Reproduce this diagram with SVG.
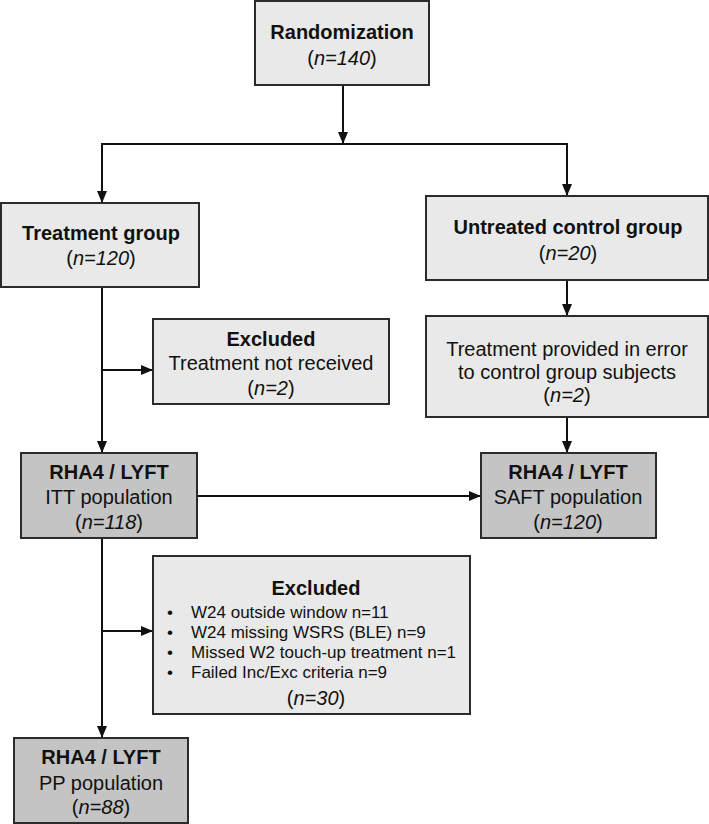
<svg xmlns="http://www.w3.org/2000/svg" width="709" height="824" viewBox="0 0 709 824">
<defs>
<style>
.box{fill:#e9e9e9;stroke:#2b2b2b;stroke-width:2}
.dark{fill:#c4c4c4;stroke:#2b2b2b;stroke-width:2}
text{font-family:"Liberation Sans",Arial,sans-serif;font-size:20px;fill:#111;text-anchor:middle}
.b{font-weight:bold}
.sm{font-size:17px;text-anchor:start}
.i{font-style:italic}
.ln{fill:none;stroke:#111;stroke-width:2}
.ar{marker-end:url(#ah)}
</style>
<marker id="ah" markerUnits="userSpaceOnUse" markerWidth="12" markerHeight="12" viewBox="0 0 12 12" refX="12" refY="6" orient="auto">
<path d="M0,1 L12,6 L0,11 Z" fill="#111"/>
</marker>
</defs>
<rect width="709" height="824" fill="#fff"/>
<g id="connectors">
<line class="ln ar" x1="343" y1="85" x2="343" y2="144"/>
<line class="ln" x1="101" y1="144" x2="568" y2="144"/>
<line class="ln ar" x1="102" y1="144" x2="102" y2="203"/>
<line class="ln ar" x1="567" y1="144" x2="567" y2="196"/>
<line class="ln ar" x1="102" y1="287" x2="102" y2="453"/>
<line class="ln ar" x1="102" y1="370" x2="153" y2="370"/>
<line class="ln ar" x1="567" y1="280" x2="567" y2="316"/>
<line class="ln ar" x1="567" y1="417" x2="567" y2="453"/>
<line class="ln ar" x1="197" y1="496" x2="481" y2="496"/>
<line class="ln ar" x1="102" y1="538" x2="102" y2="738"/>
<line class="ln ar" x1="102" y1="631" x2="153" y2="631"/>
</g>
<g id="randomization">
<rect class="box" x="255" y="1" width="174" height="84"/>
<text class="b" x="342" y="39">Randomization</text>
<text x="342" y="65">(<tspan class="i">n=140</tspan>)</text>
</g>
<g id="treatment">
<rect class="box" x="1" y="203" width="198" height="84"/>
<text class="b" x="101" y="240">Treatment group</text>
<text x="101" y="265">(<tspan class="i">n=120</tspan>)</text>
</g>
<g id="untreated">
<rect class="box" x="426" y="196" width="282" height="84"/>
<text class="b" x="568" y="234">Untreated control group</text>
<text x="568" y="260">(<tspan class="i">n=20</tspan>)</text>
</g>
<g id="excluded1">
<rect class="box" x="153" y="319" width="236" height="85"/>
<text class="b" x="271" y="346">Excluded</text>
<text x="271" y="370">Treatment not received</text>
<text x="271" y="395">(<tspan class="i">n=2</tspan>)</text>
</g>
<g id="error">
<rect class="box" x="426" y="316" width="282" height="101"/>
<text x="567" y="356">Treatment provided in error</text>
<text x="567" y="379">to control group subjects</text>
<text x="567" y="402">(<tspan class="i">n=2</tspan>)</text>
</g>
<g id="itt">
<rect class="dark" x="21" y="453" width="176" height="85"/>
<text class="b" x="109" y="479">RHA4 / LYFT</text>
<text x="109" y="504">ITT population</text>
<text x="109" y="529">(<tspan class="i">n=118</tspan>)</text>
</g>
<g id="saft">
<rect class="dark" x="481" y="453" width="175" height="85"/>
<text class="b" x="568" y="479">RHA4 / LYFT</text>
<text x="568" y="504">SAFT population</text>
<text x="568" y="529">(<tspan class="i">n=120</tspan>)</text>
</g>
<g id="excluded2">
<rect class="box" x="153" y="556" width="317" height="158"/>
<text class="b" x="316" y="595">Excluded</text>
<text class="sm" x="167" y="618">•</text>
<text class="sm" x="191" y="618">W24 outside window n=11</text>
<text class="sm" x="167" y="638">•</text>
<text class="sm" x="191" y="638">W24 missing WSRS (BLE) n=9</text>
<text class="sm" x="167" y="658">•</text>
<text class="sm" x="191" y="658">Missed W2 touch-up treatment n=1</text>
<text class="sm" x="167" y="678">•</text>
<text class="sm" x="191" y="678">Failed Inc/Exc criteria n=9</text>
<text x="316" y="705">(<tspan class="i">n=30</tspan>)</text>
</g>
<g id="pp">
<rect class="dark" x="14" y="738" width="174" height="85"/>
<text class="b" x="101" y="764">RHA4 / LYFT</text>
<text x="101" y="790">PP population</text>
<text x="101" y="814">(<tspan class="i">n=88</tspan>)</text>
</g>
</svg>
